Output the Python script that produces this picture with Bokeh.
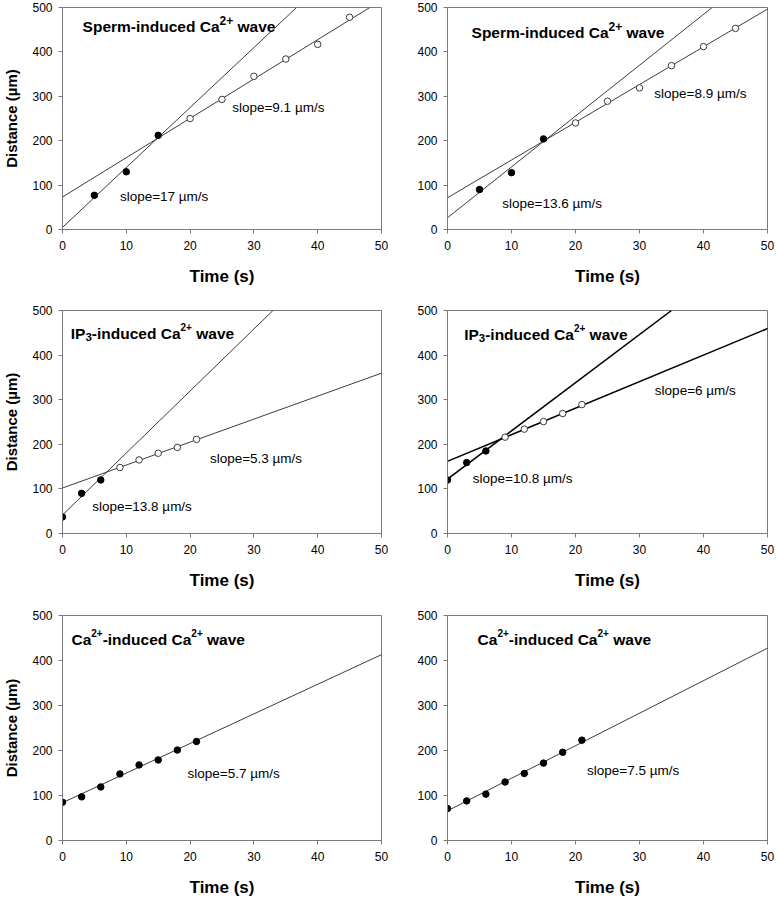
from bokeh.plotting import figure
from bokeh.layouts import column, row
from bokeh.models import Slope, Label, Range1d, FixedTicker
from bokeh.embed import file_html
from bokeh.resources import INLINE

# ---------------- data ----------------
time_ticks = [0, 10, 20, 30, 40, 50]
dist_ticks = [0, 100, 200, 300, 400, 500]

# Panel A: sperm-induced wave (egg 1)
a_fill_t = [5, 10, 15]
a_fill_d = [77, 130, 212]
a_open_t = [20, 25, 30, 35, 40, 45]
a_open_d = [250, 293, 345, 384, 417, 478]
a_fit_grad = [13.5, 8.86]
a_fit_icpt = [4.7, 73.2]
a_slope_txt = ["slope=17 µm/s", "slope=9.1 µm/s"]

# Panel B: sperm-induced wave (egg 2)
b_fill_t = [5, 10, 15]
b_fill_d = [90, 128, 204]
b_open_t = [20, 25, 30, 35, 40, 45]
b_open_d = [240, 289, 319, 369, 412, 453]
b_fit_grad = [11.45, 8.5]
b_fit_icpt = [26.5, 71.5]
b_slope_txt = ["slope=13.6 µm/s", "slope=8.9 µm/s"]

# Panel C: IP3-induced wave (egg 1)
c_fill_t = [0, 3, 6]
c_fill_d = [37, 90, 120]
c_open_t = [9, 12, 15, 18, 21]
c_open_d = [148, 165, 180, 193, 211]
c_fit_grad = [13.9, 5.15]
c_fit_icpt = [41.5, 102]
c_slope_txt = ["slope=13.8 µm/s", "slope=5.3 µm/s"]

# Panel D: IP3-induced wave (egg 2)
d_fill_t = [0, 3, 6]
d_fill_d = [120, 159, 185]
d_open_t = [9, 12, 15, 18, 21]
d_open_d = [216, 234, 251, 269, 289]
d_fit_grad = [10.8, 5.95]
d_fit_icpt = [122, 162]
d_slope_txt = ["slope=10.8 µm/s", "slope=6 µm/s"]

# Panel E: Ca2+-induced wave (egg 1)
e_fill_t = [0, 3, 6, 9, 12, 15, 18, 21]
e_fill_d = [85, 97, 119, 148, 168, 179, 201, 220]
e_fit_grad = [6.58]
e_fit_icpt = [84]
e_slope_txt = ["slope=5.7 µm/s"]

# Panel F: Ca2+-induced wave (egg 2)
f_fill_t = [0, 3, 6, 9, 12, 15, 18, 21]
f_fill_d = [71, 88, 103, 130, 149, 172, 196, 223]
f_fit_grad = [7.23]
f_fit_icpt = [66]
f_slope_txt = ["slope=7.5 µm/s"]

# ---------------- styling / layout ----------------
FONT = "Liberation Sans"
AXIS_GRAY = "#7a7a7a"
TITLE_DY = 6      # screen-pixel nudge of the in-plot titles
SLOPE_DY = 4      # screen-pixel nudge of the slope annotations

BOLD_W = {' ': 278, '-': 333, '+': 584, '2': 556, '3': 556, 'C': 722, 'I': 278,
          'P': 667, 'S': 667, 'a': 556, 'c': 556, 'd': 611, 'e': 556, 'i': 278,
          'm': 889, 'n': 611, 'p': 611, 'r': 389, 'u': 611, 'v': 556, 'w': 778}


def text_width(s, size):
    return sum(BOLD_W.get(ch, 556) for ch in s) / 1000.0 * size


ROW_FRAME_H = [222, 223, 225]
ROW_TOP = [7, 15, 16]
ROW_BOTTOM = [66, 66, 60]
COL_LEFT = [62, 42]
COL_FRAME_W = [319, 320]
COL_RIGHT = [24, 9]


def make_fig(r, c):
    w = COL_LEFT[c] + COL_FRAME_W[c] + COL_RIGHT[c]
    h = ROW_TOP[r] + ROW_FRAME_H[r] + ROW_BOTTOM[r]
    p = figure(width=w, height=h, x_range=Range1d(0, 50), y_range=Range1d(0, 500),
               output_backend="svg", toolbar_location=None,
               min_border_left=COL_LEFT[c], min_border_right=COL_RIGHT[c],
               min_border_top=ROW_TOP[r], min_border_bottom=ROW_BOTTOM[r])
    p.background_fill_color = "white"
    p.border_fill_color = "white"
    p.outline_line_color = AXIS_GRAY
    p.outline_line_width = 1
    p.grid.visible = False
    p.xaxis.ticker = FixedTicker(ticks=time_ticks)
    p.yaxis.ticker = FixedTicker(ticks=dist_ticks)
    for ax in (p.xaxis, p.yaxis):
        ax.axis_line_color = AXIS_GRAY
        ax.major_tick_line_color = AXIS_GRAY
        ax.minor_tick_line_color = None
        ax.major_tick_out = 4
        ax.major_tick_in = 0
        ax.major_label_text_font = FONT
        ax.major_label_text_font_size = "12px"
        ax.major_label_text_color = "black"
    p.xaxis.major_label_standoff = 7
    p.yaxis.major_label_standoff = 6
    p.xaxis.axis_label = "Time (s)"
    p.xaxis.axis_label_text_font = FONT
    p.xaxis.axis_label_text_font_style = "bold"
    p.xaxis.axis_label_text_font_size = "17px"
    p.xaxis.axis_label_text_color = "black"
    p.xaxis.axis_label_standoff = 14
    if c == 0:
        p.yaxis.axis_label = "Distance (µm)"
        p.yaxis.axis_label_text_font = FONT
        p.yaxis.axis_label_text_font_style = "bold"
        p.yaxis.axis_label_text_font_size = "15px"
        p.yaxis.axis_label_text_color = "black"
        p.yaxis.axis_label_standoff = 9
    return p


def add_title(p, x, y, pieces):
    off = 0.0
    for txt, size, dy in pieces:
        lead = len(txt) - len(txt.lstrip(' '))
        off += text_width(' ' * lead, size)
        t = txt.lstrip(' ')
        p.add_layout(Label(x=x, y=y, x_offset=off, y_offset=dy + TITLE_DY, text=t,
                           text_font=FONT, text_font_style="bold",
                           text_font_size=f"{size}px", text_color="black",
                           text_align="left", text_baseline="alphabetic"))
        off += text_width(t, size)


def add_slope_label(p, x, y, txt):
    p.add_layout(Label(x=x, y=y, y_offset=SLOPE_DY, text=txt, text_font=FONT,
                       text_font_size="13.5px", text_color="black",
                       text_align="left", text_baseline="alphabetic"))


def add_fits(p, grads, icpts, color, width):
    for g, b in zip(grads, icpts):
        p.add_layout(Slope(gradient=g, y_intercept=b, line_color=color,
                           line_width=width, level="underlay"))


def add_points(p, t, d, filled):
    if filled:
        p.scatter(t, d, marker="circle", size=6.5, fill_color="black", line_color="black")
    else:
        p.scatter(t, d, marker="circle", size=6.5, fill_color="white",
                  line_color="#3a3a3a", line_width=1)


TITLE_SPERM = [("Sperm-induced Ca", 15.5, 0), ("2+", 12, 6), (" wave", 15.5, 0)]
TITLE_IP3 = [("IP", 15.5, 0), ("3", 11.5, -3.5), ("-induced Ca", 15.5, 0),
             ("2+", 10, 6), (" wave", 15.5, 0)]
TITLE_CICR = [("Ca", 15.5, 0), ("2+", 10, 6), ("-induced Ca", 15.5, 0),
              ("2+", 10, 6), (" wave", 15.5, 0)]

LINE_GRAY = "#3c3c3c"

# Panel A
pa = make_fig(0, 0)
add_fits(pa, a_fit_grad, a_fit_icpt, LINE_GRAY, 1)
add_points(pa, a_fill_t, a_fill_d, True)
add_points(pa, a_open_t, a_open_d, False)
add_title(pa, 3.15, 444, TITLE_SPERM)
add_slope_label(pa, 9.0, 66, a_slope_txt[0])
add_slope_label(pa, 26.6, 265, a_slope_txt[1])

# Panel B
pb = make_fig(0, 1)
add_fits(pb, b_fit_grad, b_fit_icpt, LINE_GRAY, 1)
add_points(pb, b_fill_t, b_fill_d, True)
add_points(pb, b_open_t, b_open_d, False)
add_title(pb, 3.76, 431, TITLE_SPERM)
add_slope_label(pb, 8.57, 49, b_slope_txt[0])
add_slope_label(pb, 32.3, 297, b_slope_txt[1])

# Panel C
pc = make_fig(1, 0)
add_fits(pc, c_fit_grad, c_fit_icpt, LINE_GRAY, 1)
add_points(pc, c_fill_t, c_fill_d, True)
add_points(pc, c_open_t, c_open_d, False)
add_title(pc, 1.3, 436, TITLE_IP3)
add_slope_label(pc, 4.65, 51, c_slope_txt[0])
add_slope_label(pc, 23.1, 159, c_slope_txt[1])

# Panel D
pd_ = make_fig(1, 1)
add_fits(pd_, d_fit_grad, d_fit_icpt, "black", 1.5)
add_points(pd_, d_fill_t, d_fill_d, True)
add_points(pd_, d_open_t, d_open_d, False)
add_title(pd_, 2.6, 433, TITLE_IP3)
add_slope_label(pd_, 3.96, 114, d_slope_txt[0])
add_slope_label(pd_, 32.4, 311, d_slope_txt[1])

# Panel E
pe = make_fig(2, 0)
add_fits(pe, e_fit_grad, e_fit_icpt, LINE_GRAY, 1)
add_points(pe, e_fill_t, e_fill_d, True)
add_title(pe, 1.4, 434, TITLE_CICR)
add_slope_label(pe, 19.6, 140, e_slope_txt[0])

# Panel F
pf = make_fig(2, 1)
add_fits(pf, f_fit_grad, f_fit_icpt, LINE_GRAY, 1)
add_points(pf, f_fill_t, f_fill_d, True)
add_title(pf, 4.7, 434, TITLE_CICR)
add_slope_label(pf, 21.8, 146, f_slope_txt[0])

layout = column(row(pa, pb), row(pc, pd_), row(pe, pf))

open("out.html", "w").write(file_html(layout, INLINE))
